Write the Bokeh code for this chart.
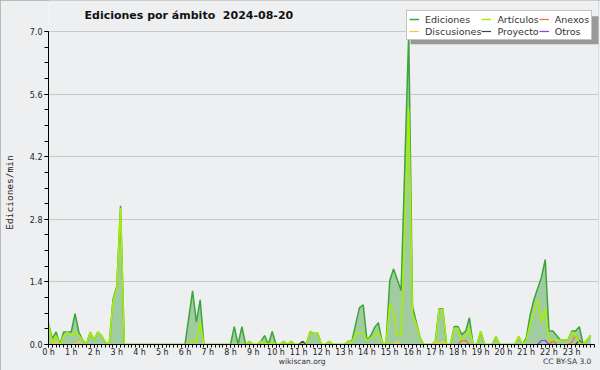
from bokeh.plotting import figure
from bokeh.models import (Range1d, FixedTicker, PrintfTickFormatter, Legend, LegendItem,
                          Label, LinearAxis, BoxAnnotation)
from bokeh.embed import file_html
from bokeh.resources import INLINE

# ---------------- data (10-minute slots, edits per minute) ----------------
hour_labels = [f"{h} h" for h in range(24)]
slot_hours = [i / 6 for i in range(144)]
y_ticks = [0.0, 1.4, 2.8, 4.2, 5.6, 7.0]

ediciones = [
    0.47, 0.13, 0.28, 0, 0.28, 0.28, 0.28, 0.69, 0.28, 0.1, 0, 0.28,
    0.1, 0.28, 0.2, 0.05, 0, 1.0, 1.3, 3.1, 0, 0, 0, 0,
    0, 0, 0, 0, 0, 0, 0, 0, 0, 0, 0, 0,
    0, 0.6, 1.2, 0.5, 1.0, 0, 0, 0, 0, 0, 0, 0,
    0, 0.4, 0, 0.4, 0, 0.07, 0, 0, 0.07, 0.2, 0, 0.29,
    0, 0, 0.07, 0, 0.07, 0, 0, 0.07, 0, 0.29, 0.25, 0.25,
    0, 0, 0.07, 0, 0, 0, 0, 0.07, 0.07, 0.45, 0.82, 0.89,
    0.09, 0.2, 0.38, 0.49, 0.05, 0, 1.43, 1.69, 1.45, 1.21, 4.1, 6.95,
    0.85, 0.5, 0.15, 0, 0, 0, 0.07, 0.8, 0.8, 0, 0, 0.4,
    0.4, 0.22, 0.3, 0.6, 0, 0, 0.3, 0, 0, 0, 0.18, 0,
    0, 0, 0, 0, 0.18, 0, 0.15, 0.65, 1.0, 1.25, 1.5, 1.9,
    0.3, 0.3, 0.2, 0.1, 0.1, 0.1, 0.3, 0.3, 0.4, 0, 0.1, 0.2,
]

articulos = [
    0.47, 0.05, 0.2, 0, 0.2, 0.28, 0.2, 0.28, 0.2, 0.1, 0, 0.28,
    0.1, 0.28, 0.2, 0.05, 0, 0.95, 1.25, 3.05, 0, 0, 0, 0,
    0, 0, 0, 0, 0, 0, 0, 0, 0, 0, 0, 0,
    0, 0, 0.1, 0.05, 0.5, 0, 0, 0, 0, 0, 0, 0,
    0, 0, 0, 0, 0, 0.07, 0, 0, 0.07, 0.05, 0, 0.05,
    0, 0, 0.07, 0, 0.07, 0, 0, 0, 0, 0.29, 0.25, 0.25,
    0, 0, 0.07, 0, 0, 0, 0, 0.07, 0.05, 0.25, 0.25, 0.25,
    0.09, 0.15, 0.2, 0.29, 0.05, 0, 0.91, 0.7, 0.2, 0.2, 2.75, 5.3,
    0.7, 0.45, 0.15, 0, 0, 0, 0, 0.78, 0.78, 0, 0, 0.36,
    0.36, 0.1, 0.2, 0.36, 0, 0, 0.3, 0, 0, 0, 0.18, 0,
    0, 0, 0, 0, 0.18, 0, 0.1, 0.45, 0.7, 1.0, 0.5, 0.8,
    0.1, 0.1, 0.1, 0.1, 0.1, 0.1, 0.28, 0.2, 0.05, 0, 0.1, 0.2,
]

anexos = [
    0, 0, 0, 0, 0, 0, 0, 0, 0, 0, 0, 0,
    0, 0, 0, 0, 0, 0, 0, 0, 0, 0, 0, 0,
    0, 0, 0, 0, 0, 0, 0, 0, 0, 0, 0, 0,
    0, 0, 0, 0, 0, 0, 0, 0, 0, 0, 0, 0,
    0, 0, 0, 0, 0, 0, 0, 0, 0, 0, 0, 0,
    0, 0, 0, 0, 0, 0, 0, 0, 0, 0, 0, 0,
    0, 0, 0, 0, 0, 0, 0, 0, 0, 0, 0, 0,
    0, 0, 0, 0, 0, 0, 0, 0, 0, 0, 0, 0,
    0, 0, 0, 0, 0, 0, 0, 0, 0, 0, 0, 0,
    0, 0.09, 0.09, 0, 0, 0, 0, 0, 0, 0, 0, 0,
    0, 0, 0, 0, 0, 0, 0, 0, 0, 0, 0, 0,
    0, 0.09, 0, 0, 0, 0, 0.05, 0.2, 0.07, 0, 0, 0,
]

discusiones = [
    0, 0, 0.07, 0, 0, 0, 0, 0, 0.07, 0, 0, 0,
    0, 0, 0, 0, 0, 0, 0, 0, 0, 0, 0, 0,
    0, 0, 0, 0, 0, 0, 0, 0, 0, 0, 0, 0,
    0, 0, 0, 0, 0, 0, 0, 0, 0, 0, 0, 0,
    0, 0, 0, 0, 0, 0, 0, 0, 0, 0, 0, 0,
    0, 0, 0, 0, 0, 0, 0, 0, 0, 0, 0, 0,
    0, 0, 0, 0, 0, 0, 0, 0, 0, 0, 0, 0,
    0, 0, 0, 0, 0, 0, 0, 0, 0.07, 0, 0, 0,
    0, 0, 0, 0, 0, 0, 0.07, 0, 0.07, 0, 0, 0,
    0, 0, 0, 0, 0, 0, 0, 0, 0, 0, 0, 0,
    0, 0, 0, 0, 0, 0, 0, 0, 0, 0, 0, 0,
    0, 0, 0, 0, 0, 0, 0, 0, 0, 0, 0, 0,
]

proyecto = [
    0, 0, 0, 0, 0, 0, 0, 0, 0, 0, 0, 0,
    0, 0, 0, 0, 0, 0, 0, 0, 0, 0, 0, 0,
    0, 0, 0, 0, 0, 0, 0, 0, 0, 0, 0, 0,
    0, 0, 0, 0, 0, 0, 0, 0, 0, 0, 0, 0,
    0, 0, 0, 0, 0, 0, 0, 0, 0, 0, 0, 0,
    0, 0, 0, 0, 0, 0, 0, 0.07, 0, 0, 0, 0,
    0, 0, 0, 0, 0, 0, 0, 0, 0, 0, 0, 0,
    0, 0, 0, 0, 0, 0, 0, 0, 0, 0, 0, 0,
    0, 0, 0, 0, 0, 0, 0, 0, 0, 0, 0, 0,
    0, 0, 0, 0, 0, 0, 0, 0, 0, 0, 0, 0,
    0, 0, 0, 0, 0, 0, 0, 0, 0, 0, 0, 0,
    0, 0, 0, 0, 0, 0, 0, 0, 0.09, 0, 0, 0,
]

otros = [
    0, 0, 0, 0, 0, 0, 0, 0, 0, 0, 0, 0,
    0, 0, 0, 0, 0, 0, 0, 0, 0, 0, 0, 0,
    0, 0, 0, 0, 0, 0, 0, 0, 0, 0, 0, 0,
    0, 0, 0, 0, 0, 0, 0, 0, 0, 0, 0, 0,
    0, 0, 0, 0, 0, 0, 0, 0, 0, 0, 0, 0,
    0, 0, 0, 0, 0, 0, 0, 0, 0, 0, 0, 0,
    0, 0, 0, 0, 0, 0, 0, 0, 0, 0, 0, 0,
    0, 0, 0, 0, 0, 0, 0, 0, 0, 0, 0, 0,
    0, 0, 0, 0, 0, 0, 0, 0, 0, 0, 0, 0,
    0, 0, 0, 0, 0, 0, 0, 0, 0, 0, 0, 0,
    0, 0, 0, 0, 0, 0, 0, 0, 0, 0, 0.09, 0.09,
    0, 0, 0, 0, 0, 0, 0, 0, 0, 0, 0, 0,
]

# legend entries in column order (column 1: Ediciones/Discusiones, ...)
legend_labels = ["Ediciones", "Discusiones", "Artículos", "Proyecto", "Anexos", "Otros"]
title_text = "Ediciones por ámbito\u00a0\u00a02024-08-20"
y_label = "Ediciones/min"
footer_labels = ["wikiscan.org", "CC BY-SA 3.0"]
footer_hours = [11.15, 22.8]   # horizontal anchor of the footer texts, in hour units

# ---------------- figure ----------------
# The frame is extended above 7.0 and right of 24 h so that the title and the
# legend (drawn inside the frame) are not clipped; axes are bounded to the data span.
FONT = "DejaVu Sans"
Y_TOP = 7.0 * 344 / 313
X_END = 24.0 * 552 / 548
p = figure(width=600, height=370, output_backend="svg", toolbar_location=None,
           x_range=Range1d(0, X_END), y_range=Range1d(0, Y_TOP),
           min_border_left=46, min_border_right=2, min_border_top=0, min_border_bottom=26,
           background_fill_color="#eeeff1", border_fill_color="#eeeff1",
           outline_line_color=None)
p.styles = {"outline": "2px solid #a8a8a8", "outline-offset": "-2px"}

p.xgrid.visible = False
p.ygrid.grid_line_color = "#c8c8c8"
p.ygrid.grid_line_width = 1

p.xaxis.ticker = FixedTicker(ticks=list(range(24)), minor_ticks=[i / 6 for i in range(145)])
p.xaxis.major_label_overrides = {h: hour_labels[h] for h in range(24)}
p.xaxis.bounds = (0, 24)
p.yaxis.ticker = FixedTicker(ticks=y_ticks, minor_ticks=[0.35 * k for k in range(21)])
p.yaxis.formatter = PrintfTickFormatter(format="%.1f")
p.yaxis.bounds = (0, 7)
# trailing no-break spaces move the centred label down to the middle of the 0-7 span
p.yaxis.axis_label = y_label + "\u00a0" * 7
p.yaxis.axis_label_text_font = "DejaVu Sans Mono"
p.yaxis.axis_label_text_font_size = "9.5px"
p.yaxis.axis_label_text_font_style = "normal"
p.yaxis.axis_label_text_color = "#222222"
p.yaxis.axis_label_standoff = 12

for ax in (p.xaxis[0], p.yaxis[0]):
    ax.axis_line_color = "black"
    ax.major_tick_line_color = "black"
    ax.minor_tick_line_color = "black"
    ax.major_tick_in = 0
    ax.major_tick_out = 4
    ax.minor_tick_in = 0
    ax.minor_tick_out = 4
    ax.major_label_text_font = FONT
    ax.major_label_text_font_size = "8px"
    ax.major_label_text_color = "#222222"
    ax.major_label_standoff = 2
p.xaxis.major_tick_out = 3
p.xaxis.minor_tick_out = 3
p.xaxis.major_label_standoff = 0

footer = LinearAxis(ticker=FixedTicker(ticks=footer_hours),
                    major_label_overrides={h: t for h, t in zip(footer_hours, footer_labels)},
                    axis_line_color=None, major_tick_line_color=None,
                    minor_tick_line_color=None, major_tick_in=0, major_tick_out=0,
                    minor_tick_in=0, minor_tick_out=0, major_label_standoff=-3,
                    major_label_text_font=FONT, major_label_text_font_size="7.5px",
                    major_label_text_color="#333333")
p.add_layout(footer, "below")

# ---------------- glyphs ----------------
p.varea(x=slot_hours, y1=0, y2=ediciones, fill_color="#a0cca0")
r_e = p.line(slot_hours, ediciones, line_color="#3aa63a", line_width=1.5)
r_x = p.line(slot_hours, anexos, line_color="#ff6a2a", line_width=1.2)
r_d = p.line(slot_hours, discusiones, line_color="#ffc83a", line_width=1.2)
r_p = p.line(slot_hours, proyecto, line_color="#444444", line_width=1.2)
r_o = p.line(slot_hours, otros, line_color="#8a3ff0", line_width=1.2)
r_a = p.line(slot_hours, articulos, line_color="#aaee00", line_width=1.5)

legend_renderers = [r_e, r_d, r_a, r_p, r_x, r_o]

# legend shadow
p.add_layout(BoxAnnotation(left=362, right=552, top=328.3, bottom=300.3,
                           left_units="screen", right_units="screen",
                           top_units="screen", bottom_units="screen",
                           fill_color="#999999", fill_alpha=1, line_color=None))

legend = Legend(items=[LegendItem(label=lab, renderers=[r])
                       for lab, r in zip(legend_labels, legend_renderers)],
                orientation="vertical", nrows=2, location=(358, 304),
                label_text_font=FONT, label_text_font_size="9.5px",
                label_text_color="#333333",
                label_height=12, glyph_height=12, glyph_width=10, label_standoff=6,
                padding=2, spacing=0, margin=0,
                background_fill_color="white", background_fill_alpha=1,
                border_line_color="#888888", border_line_width=1)
p.add_layout(legend)

# ---------------- title ----------------
p.add_layout(Label(x=36, y=329, x_units="screen", y_units="screen", text=title_text,
                   text_align="left", text_baseline="middle", text_font=FONT,
                   text_font_size="11px", text_font_style="bold", text_color="#111111"))

open("out.html", "w").write(file_html(p, INLINE))
